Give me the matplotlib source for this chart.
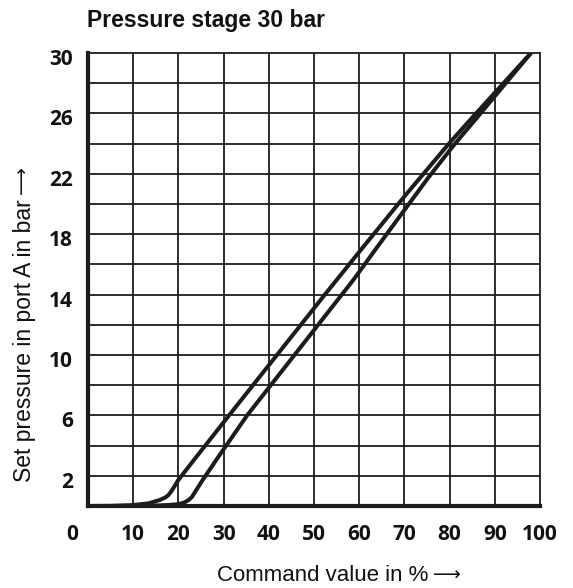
import matplotlib
matplotlib.use("Agg")
import matplotlib.pyplot as plt
from matplotlib.transforms import ScaledTranslation

# ---- data ----
up_x = [0, 5, 10, 13.5, 15.9, 17.2, 17.8, 18.5, 20, 23.7, 31.2, 52.4, 60.2, 70, 80, 86, 98]
up_y = [0, 0.01, 0.06, 0.18, 0.4, 0.58, 0.73, 1.0, 1.73, 3.15, 6, 14, 16.9, 20.5, 24.05, 26.05, 30]

lo_x = [0, 10, 15, 18, 20, 21.2, 22.2, 23, 25.1, 28.6, 35.2, 58.7, 63.5, 70, 75.3, 80.8, 86.7, 98]
lo_y = [0, 0.0, 0.03, 0.07, 0.12, 0.22, 0.38, 0.6, 1.6, 3.15, 6, 14.97, 16.95, 19.6, 21.75, 23.85, 25.95, 30]

x_ticks = [0, 10, 20, 30, 40, 50, 60, 70, 80, 90, 100]
y_ticks = [2, 6, 10, 14, 18, 22, 26, 30]
x_grid = [10, 20, 30, 40, 50, 60, 70, 80, 90]
y_grid = [2, 4, 6, 8, 10, 12, 14, 16, 18, 20, 22, 24, 26, 28]

title = "Pressure stage 30 bar"
xlabel = "Command value in %"
ylabel = "Set pressure in port A in bar"
arrow = "\u27f6"

# ---- figure ----
W, H, DPI = 573, 588, 100
fig = plt.figure(figsize=(W / DPI, H / DPI), dpi=DPI)
ax = fig.add_axes([88 / W, 1 - 506 / H, (540 - 88) / W, (506 - 53) / H])

ink = "#1c1c1c"
for gx in x_grid:
    ax.axvline(gx, color=ink, lw=1.3, zorder=1)
for gy in y_grid:
    ax.axhline(gy, color=ink, lw=1.3, zorder=1)

ax.plot(up_x, up_y, color=ink, lw=2.9, solid_joinstyle="round", solid_capstyle="butt", zorder=3)
ax.plot(lo_x, lo_y, color=ink, lw=2.9, solid_joinstyle="round", solid_capstyle="butt", zorder=3)

ax.set_xlim(0, 100)
ax.set_ylim(0, 30)

for s in ["left", "bottom"]:
    ax.spines[s].set_linewidth(3.0)
    ax.spines[s].set_color(ink)
    ax.spines[s].set_zorder(4)
for s in ["top", "right"]:
    ax.spines[s].set_linewidth(1.3)
    ax.spines[s].set_color(ink)

tick_font = dict(family=["Open Sans", "DejaVu Sans"], weight="bold", size=15)
ax.set_xticks(x_ticks)
ax.set_xticklabels([str(v) for v in x_ticks], **tick_font)
ax.set_yticks(y_ticks)
ax.set_yticklabels([str(v) for v in y_ticks], **tick_font)
ax.tick_params(axis="both", length=0, colors="#111111")
ax.tick_params(axis="x", pad=13)
ax.tick_params(axis="y", pad=11)

# y labels sit slightly below their grid lines in the reference
for lab in ax.get_yticklabels():
    lab.set_transform(lab.get_transform() + ScaledTranslation(0, -4 / DPI, fig.dpi_scale_trans))
# the "0" label is shifted left of the corner
xl = ax.get_xticklabels()
xl[0].set_transform(xl[0].get_transform() + ScaledTranslation(-16 / DPI, 0, fig.dpi_scale_trans))

fig.text(87 / W, 1 - 26.5 / H, title, ha="left", va="baseline",
         family=["Liberation Sans", "DejaVu Sans"], weight="bold", size=16.5, color="#111111")

lab_font = dict(family=["Liberation Sans", "DejaVu Sans"], color="#111111")
tx = fig.text(217 / W, 1 - 581 / H, xlabel, ha="left", va="baseline", size=16, **lab_font)
ty = fig.text(25 / W, 1 - 482 / H, ylabel, ha="center", va="bottom", rotation=90, size=16.5, **lab_font)

renderer = fig.canvas.get_renderer()
bx = tx.get_window_extent(renderer)
by = ty.get_window_extent(renderer)
fig.text((bx.x1 + 5) / W, 1 - 581 / H, arrow, ha="left", va="baseline",
         family="DejaVu Sans", size=14, color="#111111")
fig.text((0.5 * (by.x0 + by.x1) - 3) / W, (by.y1 + 5) / H, arrow, ha="center", va="bottom",
         rotation=90, family="DejaVu Sans", size=14, color="#111111")

fig.savefig("out.png", dpi=DPI)
